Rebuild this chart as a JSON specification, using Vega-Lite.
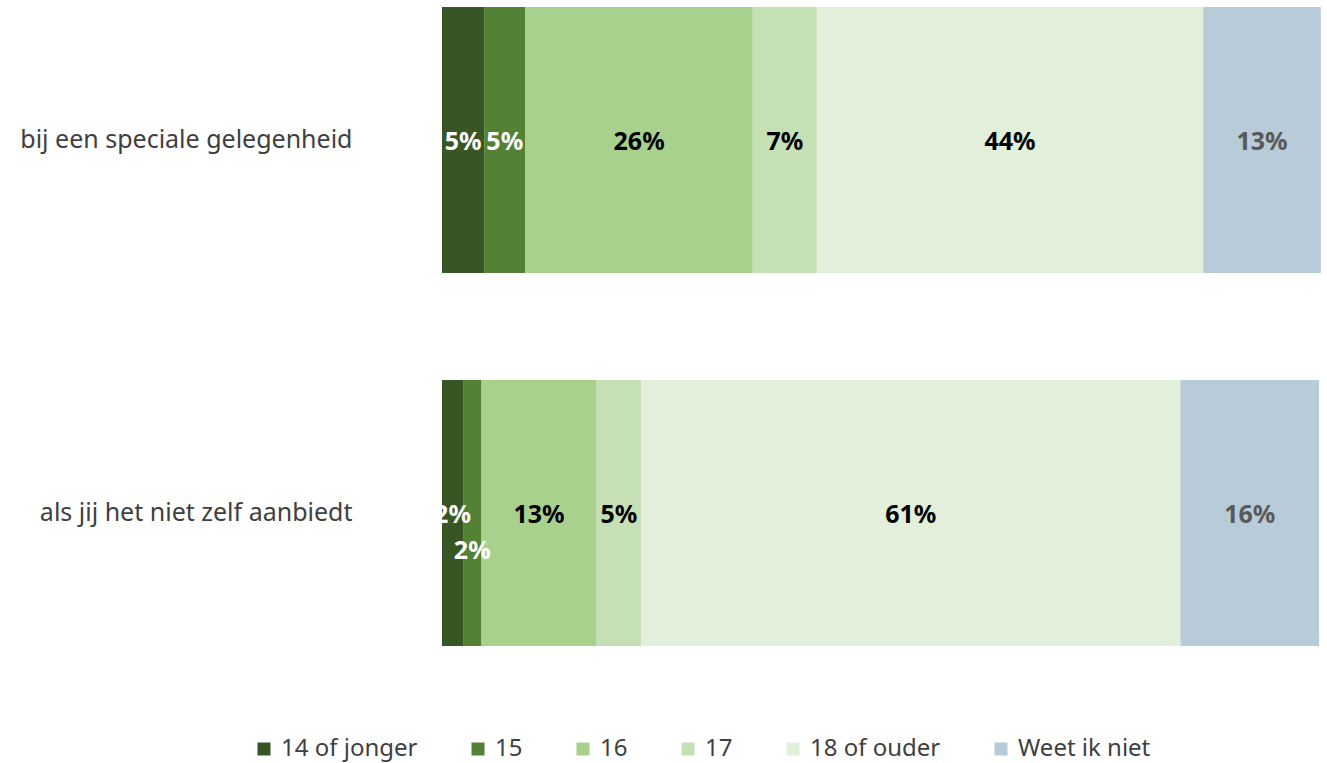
{
  "$schema": "https://vega.github.io/schema/vega-lite/v6.json",
  "autosize": "none",
  "width": 878,
  "height": 653,
  "padding": {"left": 442, "top": 0, "right": 7, "bottom": 110},
  "background": "white",
  "config": {"view": {"stroke": null}, "font": "Noto Sans"},
  "data": {"values": [
    {"q": "bij een speciale gelegenheid", "age": "14 of jonger", "v": 0.048},
    {"q": "bij een speciale gelegenheid", "age": "15", "v": 0.047},
    {"q": "bij een speciale gelegenheid", "age": "16", "v": 0.259},
    {"q": "bij een speciale gelegenheid", "age": "17", "v": 0.073},
    {"q": "bij een speciale gelegenheid", "age": "18 of ouder", "v": 0.44},
    {"q": "bij een speciale gelegenheid", "age": "Weet ik niet", "v": 0.134},
    {"q": "als jij het niet zelf aanbiedt", "age": "14 of jonger", "v": 0.024},
    {"q": "als jij het niet zelf aanbiedt", "age": "15", "v": 0.021},
    {"q": "als jij het niet zelf aanbiedt", "age": "16", "v": 0.131},
    {"q": "als jij het niet zelf aanbiedt", "age": "17", "v": 0.051},
    {"q": "als jij het niet zelf aanbiedt", "age": "18 of ouder", "v": 0.614},
    {"q": "als jij het niet zelf aanbiedt", "age": "Weet ik niet", "v": 0.158}
  ]},
  "transform": [
    {"stack": "v", "groupby": ["q"], "sort": [{"field": "age", "order": "ascending"}], "as": ["x0", "x1"]}
  ],
  "encoding": {
    "y": {
      "field": "q", "type": "nominal",
      "sort": ["bij een speciale gelegenheid", "als jij het niet zelf aanbiedt"],
      "scale": {"paddingInner": 0.287, "paddingOuter": 0.019},
      "axis": {"title": null, "domain": false, "ticks": false, "labelPadding": 90, "labelFontSize": 25, "labelColor": "#404040", "labelLimit": 500}
    }
  },
  "layer": [
    {
      "mark": {"type": "bar"},
      "encoding": {
        "x": {"field": "x0", "type": "quantitative", "scale": {"domain": [0, 1], "nice": false}, "axis": null},
        "x2": {"field": "x1"},
        "color": {
          "field": "age", "type": "nominal",
          "scale": {
            "domain": ["14 of jonger", "15", "16", "17", "18 of ouder", "Weet ik niet"],
            "range": ["#375623", "#538135", "#A9D18E", "#C5E0B4", "#E2EFDA", "#B8CBD8"]
          },
          "legend": {
            "title": null, "orient": "none", "direction": "horizontal",
            "legendX": -190, "legendY": 737,
            "symbolType": "square", "symbolSize": 169, "symbolStrokeWidth": 0,
            "labelFontSize": 24, "labelColor": "#404040", "labelOffset": 5,
            "columnPadding": 48
          }
        }
      }
    },
    {
      "transform": [
        {"filter": "!(datum.q == 'als jij het niet zelf aanbiedt' && datum.age == '15')"},
        {"fold": ["x0", "x1"], "as": ["edge", "pos"]}
      ],
      "mark": {"type": "text", "fontSize": 25, "fontWeight": "bold", "baseline": "middle", "dy": 2},
      "encoding": {
        "x": {"field": "pos", "type": "quantitative", "aggregate": "mean"},
        "detail": {"field": "age", "type": "nominal"},
        "text": {"field": "v", "type": "quantitative", "format": ".0%"},
        "color": {
          "condition": [
            {"test": "datum.age == '14 of jonger' || datum.age == '15'", "value": "white"},
            {"test": "datum.age == 'Weet ik niet'", "value": "#595959"}
          ],
          "value": "black"
        }
      }
    },
    {
      "transform": [
        {"filter": "datum.q == 'als jij het niet zelf aanbiedt' && datum.age == '15'"},
        {"fold": ["x0", "x1"], "as": ["edge", "pos"]}
      ],
      "mark": {"type": "text", "fontSize": 25, "fontWeight": "bold", "baseline": "middle", "dy": 38, "color": "white"},
      "encoding": {
        "x": {"field": "pos", "type": "quantitative", "aggregate": "mean"},
        "detail": {"field": "age", "type": "nominal"},
        "text": {"field": "v", "type": "quantitative", "format": ".0%"}
      }
    }
  ]
}
